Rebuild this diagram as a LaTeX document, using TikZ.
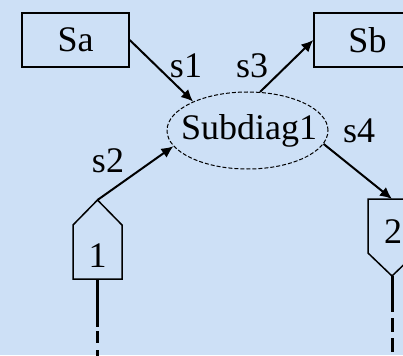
\documentclass[tikz,border=0pt]{standalone}
\usepackage{fontspec}
\setmainfont{Liberation Serif}
\usetikzlibrary{arrows.meta, shapes.geometric}
\definecolor{paper}{RGB}{205,224,246}

\begin{document}
\begin{tikzpicture}[x=1pt, y=-1pt, >={Latex[length=12pt,width=11pt]},
  font=\fontsize{36}{40}\selectfont,
  statebox/.style={draw, line width=1.4pt, minimum width=107pt, minimum height=54pt, inner sep=0pt},
  flow/.style={->, line width=2pt},
  stub/.style={line width=3pt}]

\fill[paper] (0,0) rectangle (403,355);
\useasboundingbox (0,0) rectangle (403,355);
\clip (0,0) rectangle (403,355);


\node[statebox] (Sa) at (75.5,40) {Sa};
\node[statebox] (Sb) at (367.5,40) {Sb};


\node[ellipse, draw, line width=1pt, dash pattern=on 4pt off 2pt,
  minimum width=161pt, minimum height=77pt, inner sep=0pt] (sub) at (247.5,130.5) {};
\node[anchor=base] (subname) at (249,140) {Subdiag1};


% ports
\def\xa{97.5}
\def\xb{392}

\draw[line width=1.5pt] (\xa-24.5,225) -- (\xa,200) -- (\xa+24.5,225) -- (\xa+24.5,279) -- (\xa-24.5,279) -- cycle;
\coordinate (p1top) at (\xa,200);
\coordinate (p1foot) at (\xa,279);
\node[anchor=base] (p1) at (\xa,267) {1};

\draw[line width=1.5pt] (\xb-24,199) -- (\xb+24,199) -- (\xb+24,253) -- (\xb,276) -- (\xb-24,253) -- cycle;
\coordinate (p2top) at (\xb,199);
\coordinate (p2foot) at (\xb,276);
\node[anchor=base] (p2) at (\xb+1,243) {2};

\coordinate (p1cut) at (\xa,327);
\coordinate (p1dash) at (\xa,331);
\coordinate (p1end) at (\xa,360);
\draw[stub] (p1foot) -- (p1cut);
\draw[stub, dash pattern=on 12pt off 7pt] (p1dash) -- (p1end);

\coordinate (p2cut) at (\xb,312);
\coordinate (p2dash) at (\xb,318);
\coordinate (p2end) at (\xb,360);
\draw[stub] (p2foot) -- (p2cut);
\draw[stub, dash pattern=on 14pt off 6pt] (p2dash) -- (p2end);


\draw[flow] (Sa.east) -- (sub.152);
\draw[flow] (p1top) -- (sub.192);
\draw[flow] (sub.72) -- (Sb.west);
\draw[flow] (sub.-10) -- (p2top);

\node[anchor=base] (s1) at (186,78) {s1};
\node[anchor=base] (s2) at (108,172) {s2};
\node[anchor=base] (s3) at (252,78) {s3};
\node[anchor=base] (s4) at (359,143) {s4};

\end{tikzpicture}
\end{document}
